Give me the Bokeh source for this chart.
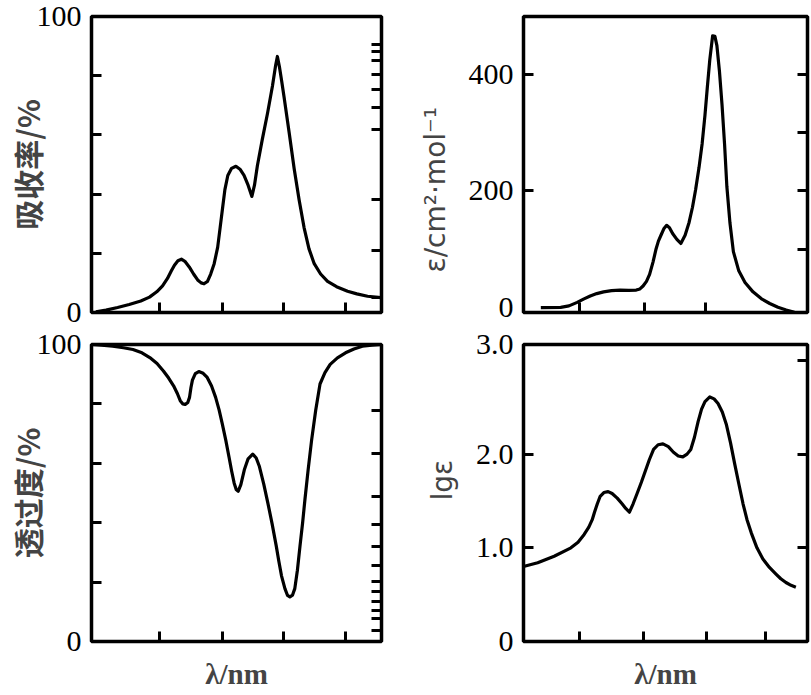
from bokeh.plotting import figure
from bokeh.layouts import gridplot
from bokeh.models import FixedTicker, LinearAxis, Range1d, Title
from bokeh.embed import file_html
from bokeh.resources import INLINE

# ---------------- data ----------------
# Panel 1: absorption (%) vs relative wavelength
abs_x = [1.5, 5, 9, 13, 17, 20, 22.5, 24.5, 26.2, 27.5, 28.6, 29.8, 31, 32.2, 33.7, 35.2,
         36.6, 37.8, 38.8, 40, 41.1, 42.3, 43.5, 44.4, 45.2, 46, 47, 48.3, 49.8, 51.2, 52.6,
         54, 55.3, 56.2, 57.2, 58.9, 60.7, 62.4, 63.5, 64.1, 64.8, 65.6, 66.4, 68.2, 69.9,
         71.6, 73.3, 75, 76.8, 79, 81.4, 84.5, 88.3, 91.5, 95.2, 99.8]
abs_y = [0.2, 0.8, 1.7, 2.7, 3.9, 5.2, 7, 9, 11.5, 14, 16, 17.5, 18, 17.3, 15.4, 13,
         11, 10, 9.7, 10.5, 13, 16.5, 22, 29, 35.3, 41.5, 46.3, 48.7, 49.4, 48.4, 46.3,
         43, 39.2, 43, 49.6, 58.5, 67.3, 76.5, 83.5, 86.5, 83, 78, 72.8, 60.5, 48.5,
         38, 28.7, 21.5, 16.5, 13, 10.5, 8.7, 7.2, 6.3, 5.5, 5.0]

# Panel 2: molar absorptivity epsilon
eps_x = [6.1, 13.1, 16, 18.9, 21.3, 23.5, 25.8, 28.2, 31, 34, 37, 39.7, 41, 42.1, 43.3, 44.4,
         45.6, 46.7, 47.5, 48.4, 49.4, 50.4, 51.4, 52.5, 54, 55.4, 56.9, 58.3, 59.5, 60.6,
         61.8, 62.9, 63.9, 64.7, 65.6, 66.6, 67.4, 68.1, 69, 69.9, 70.8, 71.6, 72.7, 73.9,
         75.8, 78, 80.8, 83.8, 86.7, 89.6, 92.5, 95.4]
eps_y = [0, 0.5, 3, 9, 15, 20, 24, 27, 29, 30, 29.5, 30, 32, 37, 45, 57,
         78, 101, 114, 124, 135, 141, 137, 127, 117, 110, 124, 146, 172, 202,
         240, 281, 330, 376, 425, 466, 465, 449, 405, 348, 280, 208, 145, 96,
         63, 43, 27, 15, 7, 0.5, -4, -8]

# Panel 3: transmittance (%)
tr_x = [0, 3.5, 7.3, 11, 14.3, 17.4, 20.1, 22.6, 24.8, 26.6, 28.3, 29.6, 30.6, 31.5, 32.3,
        33.2, 33.8, 34.3, 34.8, 35.8, 37, 38.5, 39.9, 41.4, 42.8, 44, 45.1, 46.3, 47.4, 48.3,
        49.2, 49.9, 50.6, 51.5, 52.7, 54, 55.6, 56.8, 57.9, 59.4, 60.8, 62.3, 63.7, 64.6,
        65.5, 66.7, 67.6, 68.4, 69.3, 70.1, 71, 71.9, 72.8, 73.6, 74.7, 75.9, 77.3, 78.8,
        80.5, 82.3, 84.8, 87.6, 90.5, 93.4, 96.7, 100]
tr_y = [100, 99.8, 99.4, 98.9, 98.3, 97.2, 95.6, 93.6, 91.1, 88.7, 86.1, 83.5, 81.1, 80, 79.8,
        80.5, 82.2, 85.5, 88, 90.2, 90.9, 90.3, 88.9, 86, 82.2, 78, 73.3, 67.8, 62.2, 57.5,
        53.3, 51.2, 50.6, 52.8, 57.8, 61.5, 63.1, 61.8, 58.9, 53, 46.7, 39.5, 32.2, 27,
        22.2, 17.8, 15.5, 15, 15.6, 17.8, 24, 32.2, 40, 47.8, 57.8, 67.8, 77.8, 86.7,
        90.5, 93.3, 95.5, 97.2, 98.5, 99.4, 99.8, 100]

# Panel 4: lg epsilon
lg_x = [0, 5, 10.8, 16.7, 19.2, 21.3, 23, 24.2, 25, 26, 27, 28.3, 29.8, 31.2, 33, 34.7, 36,
        37.3, 38.6, 40, 41.5, 42.9, 44.3, 45.8, 47.4, 49.1, 51, 52.8, 54.5, 56.1, 57.6, 58.9,
        60.2, 61.5, 62.7, 63.9, 65.6, 67.1, 68.5, 70, 71.4, 72.9, 74.4, 75.9, 77.3, 78.7,
        80.2, 82.2, 84.3, 86.6, 88.9, 90.6, 92.4, 94.2, 95.9]
lg_y = [0.80, 0.84, 0.91, 1.0, 1.06, 1.14, 1.22, 1.30, 1.38, 1.47, 1.55, 1.59, 1.60, 1.58,
        1.53, 1.47, 1.42, 1.38, 1.47, 1.58, 1.70, 1.82, 1.94, 2.05, 2.10, 2.11, 2.08, 2.02,
        1.98, 1.97, 2.0, 2.05, 2.18, 2.35, 2.48, 2.56, 2.61, 2.59, 2.54, 2.45, 2.32, 2.12,
        1.89, 1.67, 1.47, 1.30, 1.16, 1.0, 0.88, 0.79, 0.72, 0.67, 0.63, 0.60, 0.58]

# tick positions (no numbers are printed on the wavelength axes)
x_ticks_left = [23.4, 45.2, 66.2, 87.6]
x_ticks_top_right = [19.7, 42.6, 64.0]
x_ticks_bottom_right = [19.6, 42.3, 64.3, 85.3]

pct_labels = [0, 100]
pct_ticks = [20, 40, 60, 80]
abs_right_ticks = [90.7, 88.1, 85.1, 80.5, 75.2, 69.2, 61.9, 38.1, 20.9, 5.0]
tr_right_ticks = [77.7, 63.3, 48.7, 39.3, 32.0, 25.7, 20.3, 16.7, 13.3, 10.3, 7.7, 3.7]
eps_range = (-8.4, 499)
eps_labels = [0, 200, 400]
eps_ticks = [200, 400]
eps_right_ticks = [100, 200, 300, 400]
lg_top = 3.17
lg_labels = [0, 1, 2, lg_top]
lg_label_text = {0: "0", 1: "1.0", 2: "2.0", lg_top: "3.0"}
lg_ticks = [1, 2]
lg_right_ticks = [1, 2, 3]

SERIF = "Liberation Serif"
CJK = "Noto Sans CJK SC"
TICK_FS = "30px"
CJK_FS = "30px"


def make_fig(width, height, mbl, mbr, mbt, mbb, yr):
    p = figure(width=width, height=height, output_backend="svg", toolbar_location=None,
               x_range=Range1d(0, 100), y_range=Range1d(*yr),
               min_border_left=mbl, min_border_right=mbr,
               min_border_top=mbt, min_border_bottom=mbb)
    p.grid.visible = False
    p.outline_line_color = "black"
    p.outline_line_width = 3.5
    p.background_fill_color = "white"
    p.border_fill_color = "white"
    return p


def style_axis(ax, labels, minor, overrides=None, blank=False):
    ax.ticker = FixedTicker(ticks=labels, minor_ticks=minor)
    ax.axis_line_color = None
    ax.major_tick_out = 0
    ax.minor_tick_out = 0
    ax.major_tick_in = 10
    ax.minor_tick_in = 10
    ax.major_tick_line_width = 3
    ax.minor_tick_line_width = 3
    ax.major_label_text_font = SERIF
    ax.major_label_text_font_size = TICK_FS
    ax.major_label_text_color = "black"
    if blank:
        ax.major_label_overrides = {t: "" for t in labels}
        ax.major_label_text_font_size = "0px"
        ax.major_label_standoff = 0
        ax.axis_label_standoff = 0
    elif overrides:
        ax.major_label_overrides = overrides


def finish(p, xt, left_labels, left_minor, right_ticks, overrides=None):
    style_axis(p.xaxis[0], xt, [], blank=True)
    style_axis(p.yaxis[0], left_labels, left_minor, overrides)
    p.yaxis[0].major_tick_in = 0
    p.yaxis[0].major_label_standoff = 10
    r = LinearAxis()
    style_axis(r, right_ticks, [], blank=True)
    p.add_layout(r, "right")


def xtitle(p, text):
    ax = p.xaxis[0]
    ax.axis_label = text
    ax.axis_label_text_font = SERIF
    ax.axis_label_text_font_size = "29px"
    ax.axis_label_text_font_style = "bold"
    ax.axis_label_standoff = 16


def ytitle(p, text):
    ax = p.yaxis[0]
    ax.axis_label = text
    ax.axis_label_text_font = CJK
    ax.axis_label_text_font_size = CJK_FS
    ax.axis_label_text_font_style = "bold"
    ax.axis_label_standoff = -15


def side_title(p, text, offset):
    p.add_layout(Title(text=text, text_font="DejaVu Sans", text_font_size="28px",
                       text_font_style="normal", align="left", offset=offset,
                       standoff=27), "left")


# Panel 1
p1 = make_fig(403, 328, 91, 22, 16, 16, (0, 100))
p1.line(abs_x, abs_y, line_color="black", line_width=3.2, line_join="round")
finish(p1, x_ticks_left, pct_labels, pct_ticks, abs_right_ticks)
ytitle(p1, "吸收率/%")

# Panel 2
p2 = make_fig(407, 328, 115, 3, 10, 16, eps_range)
p2.line(eps_x, eps_y, line_color="black", line_width=3.2, line_join="round")
finish(p2, x_ticks_top_right, eps_labels, eps_ticks, eps_right_ticks)
side_title(p2, "ε/cm²·mol⁻¹", 40)

# Panel 3
p3 = make_fig(403, 364, 91, 22, 16, 49, (0, 100))
p3.line(tr_x, tr_y, line_color="black", line_width=3.2, line_join="round")
finish(p3, x_ticks_left, pct_labels, pct_ticks, tr_right_ticks)
ytitle(p3, "透过度/%")
xtitle(p3, "λ/nm")

# Panel 4
p4 = make_fig(407, 364, 115, 3, 16, 49, (0, lg_top))
p4.line(lg_x, lg_y, line_color="black", line_width=3.2, line_join="round")
finish(p4, x_ticks_bottom_right, lg_labels, lg_ticks, lg_right_ticks, lg_label_text)
side_title(p4, "lgε", 141)
xtitle(p4, "λ/nm")

grid = gridplot([[p1, p2], [p3, p4]], toolbar_location=None)

open("out.html", "w").write(file_html(grid, INLINE))
